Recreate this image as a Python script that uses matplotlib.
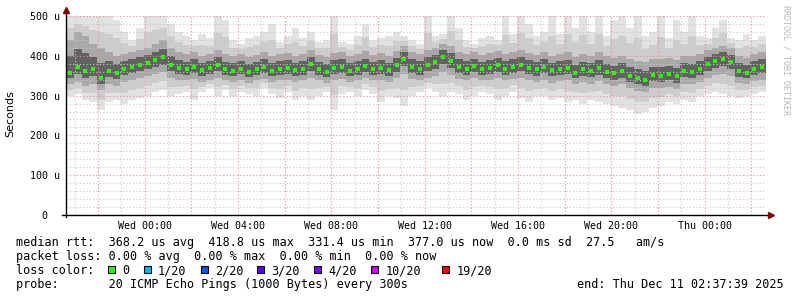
import numpy as np
import matplotlib
matplotlib.use("Agg")
import matplotlib.pyplot as plt
from matplotlib.patches import Rectangle

# time in hours relative to Wed 00:00; 30 h window ending Thu 02:37:39
t_start = -3.3725
t_end = 26.6275
step = 1.0 / 3.0  # 20 min bins

# median rtt (us) per 20 min bin
med = [357, 372, 362, 366, 345, 362, 358, 368, 372, 378, 383, 390, 396, 378, 370,
       366, 372, 365, 370, 378, 366, 362, 368, 360, 366, 372, 362, 367, 370, 364,
       368, 380, 366, 360, 370, 372, 362, 368, 374, 366, 370, 364, 376, 392, 372,
       368, 378, 385, 398, 388, 372, 368, 374, 366, 370, 376, 368, 372, 378, 370,
       366, 372, 364, 368, 370, 358, 366, 362, 370, 360, 356, 362, 350, 345, 340,
       352, 350, 355, 348, 362, 360, 368, 380, 388, 392, 385, 362, 358, 368, 372]
# fastest / slowest ping of each bin
lo = [300, 305, 290, 285, 265, 285, 290, 280, 290, 295, 300, 310, 315, 300, 305,
      310, 290, 310, 320, 300, 315, 300, 310, 305, 300, 320, 305, 295, 310, 290,
      300, 290, 300, 310, 265, 305, 310, 300, 315, 305, 285, 300, 295, 275, 300,
      310, 320, 310, 300, 310, 305, 290, 300, 310, 305, 290, 300, 310, 295, 285,
      300, 300, 290, 295, 285, 290, 280, 290, 285, 280, 275, 270, 265, 255, 260,
      270, 275, 285, 280, 290, 285, 300, 305, 310, 305, 300, 295, 300, 305, 310]
hi = [500, 500, 500, 500, 500, 500, 490, 460, 440, 470, 500, 500, 500, 480, 460,
      450, 440, 455, 445, 500, 490, 440, 430, 445, 450, 460, 480, 435, 450, 470,
      445, 460, 435, 440, 500, 435, 430, 450, 480, 440, 445, 450, 460, 450, 440,
      430, 500, 450, 455, 500, 470, 440, 430, 445, 450, 440, 500, 455, 500, 480,
      450, 460, 500, 455, 500, 470, 500, 460, 500, 450, 490, 500, 470, 500, 450,
      460, 500, 445, 490, 460, 500, 450, 445, 470, 490, 445, 440, 455, 440, 450]
# inner smoke (quartile-ish pings)
q1 = [330, 335, 325, 330, 315, 330, 325, 335, 340, 345, 350, 355, 360, 345, 340,
      338, 342, 335, 340, 345, 338, 335, 340, 332, 338, 342, 335, 338, 340, 335,
      338, 345, 338, 332, 340, 342, 335, 338, 344, 338, 340, 335, 345, 355, 342,
      338, 345, 350, 360, 352, 342, 338, 344, 338, 340, 345, 338, 342, 345, 340,
      335, 340, 332, 336, 338, 328, 334, 330, 336, 328, 324, 328, 318, 312, 310,
      320, 318, 322, 316, 330, 328, 335, 345, 352, 355, 350, 332, 328, 336, 340]
q3 = [440, 460, 450, 430, 420, 410, 400, 405, 410, 415, 420, 430, 440, 420, 410,
      405, 410, 400, 405, 415, 405, 400, 405, 398, 402, 410, 400, 405, 408, 400,
      405, 415, 402, 398, 408, 410, 400, 405, 412, 402, 408, 400, 412, 425, 410,
      405, 415, 420, 430, 425, 410, 405, 410, 402, 408, 412, 405, 410, 415, 408,
      402, 410, 400, 405, 410, 398, 405, 400, 410, 400, 395, 400, 392, 388, 385,
      392, 392, 395, 390, 400, 400, 405, 415, 420, 425, 420, 400, 395, 405, 410]

yticks = [0, 100, 200, 300, 400, 500]
ylabels = ["0  ", "100 u", "200 u", "300 u", "400 u", "500 u"]
xticks = [0, 4, 8, 12, 16, 20, 24]
xlabels = ["Wed 00:00", "Wed 04:00", "Wed 08:00", "Wed 12:00",
           "Wed 16:00", "Wed 20:00", "Thu 00:00"]

loss_labels = ["0", "1/20", "2/20", "3/20", "4/20", "10/20", "19/20"]
loss_colors = ["#26ff00", "#00b8ff", "#0059ff", "#5e00ff", "#7e00ff", "#dd00ff", "#ff0000"]
loss_cols = [13, 18, 26, 34, 42, 50, 60]

med = np.array(med); lo = np.array(lo); hi = np.array(hi)
q1 = np.array(q1); q3 = np.array(q3)
t = t_start + np.arange(len(med)) * step

W, H = 797, 297
fig = plt.figure(figsize=(W / 100, H / 100), dpi=100)
ax = fig.add_axes([66 / W, 1 - 215 / H, 700 / W, 199 / H])
ax.set_xlim(t_start, t_end)
ax.set_ylim(0, 500)

# smoke: light outer, graded towards the median
ax.bar(t, hi - lo, bottom=lo, width=step, align="edge", color="#e2e2e2", lw=0, zorder=1)
o_lo = (lo + q1) / 2
o_hi = (hi + q3) / 2
ax.bar(t, o_hi - o_lo, bottom=o_lo, width=step, align="edge", color="#cdcdcd", lw=0, zorder=1)
ax.bar(t, q3 - q1, bottom=q1, width=step, align="edge", color="#a8a8a8", lw=0, zorder=2)
i_lo = (q1 + med) / 2
i_hi = (q3 + med) / 2
ax.bar(t, i_hi - i_lo, bottom=i_lo, width=step, align="edge", color="#626262", lw=0, zorder=2)

# grid: minor gray, major red, dotted (drawn over the smoke)
for h in np.arange(np.ceil(t_start), t_end, 1.0):
    col = "#e09090" if int(h) % 2 == 0 else "#c8c8c8"
    ax.axvline(h, color=col, lw=0.8, ls=(0, (1, 2)), zorder=3)
for v in range(20, 501, 20):
    col = "#e09090" if v % 100 == 0 else "#c8c8c8"
    ax.axhline(v, color=col, lw=0.8, ls=(0, (1, 2)), zorder=3)

ax.plot(t + step / 2, med, ls="none", marker="s", ms=2.8, mew=0, color="#26ff00", zorder=4)

for s in ax.spines.values():
    s.set_visible(False)
ax.set_yticks(yticks)
ax.set_yticklabels(ylabels, family="DejaVu Sans Mono", fontsize=7.2)
ax.set_xticks(xticks)
ax.set_xticklabels(xlabels, family="DejaVu Sans Mono", fontsize=7.2)
ax.tick_params(length=0, pad=4.3)

# axes with arrows
ax.plot([t_start - 0.17, t_end + 0.15], [0, 0], color="black", lw=1, clip_on=False, zorder=5)
ax.plot([t_start, t_start], [-4, 512], color="black", lw=1, clip_on=False, zorder=5)
ax.plot([t_end + 0.2], [0], marker=">", ms=4, color="#800000", clip_on=False, zorder=6)
ax.plot([t_start], [514], marker="^", ms=4, color="#800000", clip_on=False, zorder=6)

fig.text(10 / W, 1 - 114 / H, "Seconds", rotation=90, ha="center", va="center",
         fontsize=8, family="DejaVu Sans")
fig.text(786 / W, 1 - 60 / H, "RRDTOOL / TOBI OETIKER", rotation=270, ha="center",
         va="center", fontsize=6, family="DejaVu Sans Mono", color="#b8b8b8")

mono = dict(family="DejaVu Sans Mono", fontsize=8.5, va="baseline", ha="left")
cw = 7.1
fig.text(16 / W, 1 - 246 / H,
         "median rtt:  368.2 us avg  418.8 us max  331.4 us min  377.0 us now  0.0 ms sd  27.5   am/s",
         **mono)
fig.text(16 / W, 1 - 260 / H,
         "packet loss: 0.00 % avg  0.00 % max  0.00 % min  0.00 % now", **mono)
fig.text(16 / W, 1 - 274 / H, "loss color:", **mono)
for lab, colr, c in zip(loss_labels, loss_colors, loss_cols):
    x0 = 16 + c * cw
    fig.add_artist(Rectangle((x0 / W, 1 - 273 / H), 7 / W, 7 / H, transform=fig.transFigure,
                             facecolor=colr, edgecolor="black", lw=0.8))
    fig.text((x0 + 2 * cw) / W, 1 - 274 / H, lab, **mono)
fig.text(16 / W, 1 - 288 / H,
         "probe:       20 ICMP Echo Pings (1000 Bytes) every 300s", **mono)
fig.text(577 / W, 1 - 288 / H, "end: Thu Dec 11 02:37:39 2025", **mono)

fig.savefig("out.png", dpi=100)
